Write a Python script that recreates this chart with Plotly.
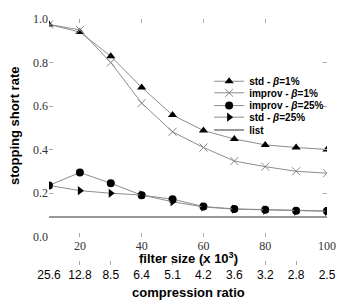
import plotly.graph_objects as go

filter_size = [10, 20, 30, 40, 50, 60, 70, 80, 90, 100]
compression = ["25.6", "12.8", "8.5", "6.4", "5.1", "4.2", "3.6", "3.2", "2.8", "2.5"]

std_b1 = [0.975, 0.94, 0.829, 0.686, 0.559, 0.488, 0.449, 0.422, 0.410, 0.401]
improv_b1 = [0.975, 0.95, 0.80, 0.614, 0.482, 0.41, 0.348, 0.322, 0.301, 0.292]
improv_b25 = [0.236, 0.295, 0.246, 0.191, 0.173, 0.139, 0.128, 0.124, 0.120, 0.119]
std_b25 = [0.236, 0.212, 0.200, 0.192, 0.161, 0.137, 0.127, 0.123, 0.118, 0.117]
list_rate = [0.091] * len(filter_size)

fig = go.Figure()
line_gray = "#8c8c8c"

fig.add_trace(go.Scatter(x=filter_size, y=std_b1, mode="lines+markers", name="std - <i>β</i>=1%",
                         line=dict(color=line_gray, width=1), legend="legend",
                         marker=dict(symbol="triangle-up", size=8, color="black")))
fig.add_trace(go.Scatter(x=filter_size, y=improv_b1, mode="lines+markers", name="improv - <i>β</i>=1%",
                         line=dict(color=line_gray, width=1), legend="legend2",
                         marker=dict(symbol="x-thin-open", size=8, color="#888", line=dict(color="#888", width=1))))
fig.add_trace(go.Scatter(x=filter_size, y=improv_b25, mode="lines+markers", name="improv - <i>β</i>=25%",
                         line=dict(color=line_gray, width=1), legend="legend3",
                         marker=dict(symbol="circle", size=8, color="black")))
fig.add_trace(go.Scatter(x=filter_size, y=std_b25, mode="lines+markers", name="std - <i>β</i>=25%",
                         line=dict(color=line_gray, width=1), legend="legend4",
                         marker=dict(symbol="triangle-right", size=8, color="black")))
fig.add_trace(go.Scatter(x=filter_size, y=list_rate, mode="lines", name="list", legend="legend5",
                         line=dict(color="#777", width=1.5)))
# carrier for the secondary (compression ratio) axis
fig.add_trace(go.Scatter(x=filter_size, y=list_rate, mode="lines", xaxis="x2", showlegend=False,
                         hoverinfo="skip", line=dict(color="rgba(0,0,0,0)")))

legend_font = dict(family="Liberation Sans", size=10, color="black", weight="bold")
def leg(y):
    return dict(x=0.576, y=y, xanchor="left", yanchor="middle", bgcolor="rgba(0,0,0,0)",
                font=legend_font, itemwidth=30, borderwidth=0)

tick_font = dict(family="Liberation Serif", size=12, color="#333")
fig.update_layout(
    width=354, height=304,
    margin=dict(l=49, r=27, t=12, b=39),
    paper_bgcolor="white", plot_bgcolor="white",
    xaxis=dict(range=[10, 100], tickvals=[20, 40, 60, 80, 100], ticks="inside", ticklen=4,
               tickcolor="#aaa", mirror="ticks", showline=False, showgrid=False, zeroline=False,
               tickfont=tick_font, anchor="y"),
    xaxis2=dict(range=[10, 100], tickvals=filter_size, ticktext=compression, overlaying="x",
                anchor="free", position=0, side="bottom", ticks="inside", ticklen=4,
                tickcolor="#aaa", showline=False, showgrid=False, zeroline=False,
                ticklabelstandoff=1,
                tickfont=dict(family="Liberation Sans", size=12, color="black")),
    yaxis=dict(range=[0, 1], domain=[0.1146, 1], tickvals=[0, 0.2, 0.4, 0.6, 0.8, 1.0],
               tickformat=".1f", ticks="inside", ticklen=4, tickcolor="#aaa", mirror="ticks",
               showline=False, showgrid=False, zeroline=False, tickfont=tick_font),
    showlegend=True,
    legend=leg(0.747), legend2=leg(0.700), legend3=leg(0.648), legend4=leg(0.601), legend5=leg(0.549),
)

title_font = dict(family="Liberation Sans", size=13, color="black", weight="bold")
fig.add_annotation(text="filter size (x 10<sup>3</sup>)", xref="paper", yref="paper", x=0.5, y=0.028,
                   showarrow=False, font=title_font, yanchor="middle")
fig.add_annotation(text="compression ratio", xref="paper", yref="paper", x=0.5, y=-0.112,
                   showarrow=False, font=title_font, yanchor="middle")
fig.add_annotation(text="stopping short rate", xref="paper", yref="paper", x=-0.126, y=0.565,
                   textangle=-90, showarrow=False, font=title_font, xanchor="center")

fig.write_html("out.html", config={"displayModeBar": False},
               post_script="document.body.style.margin='0px';")
